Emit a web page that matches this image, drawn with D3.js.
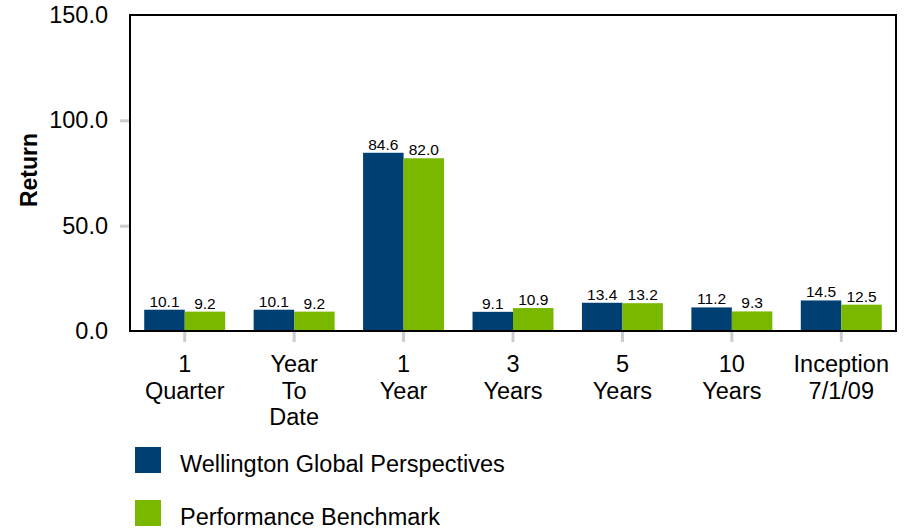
<!DOCTYPE html>
<html>
<head>
<meta charset="utf-8">
<script src="https://cdn.jsdelivr.net/npm/d3@7/dist/d3.min.js"></script>
<style>
  body { margin: 0; background: #fff; }
  text { font-family: "Liberation Sans", Arial, sans-serif; }
</style>
</head>
<body>
<div id="chart"></div>
<script>
var categories = [['1', 'Quarter'], ['Year', 'To', 'Date'], ['1', 'Year'], ['3', 'Years'], ['5', 'Years'], ['10', 'Years'], ['Inception', '7/1/09']];
var fundValues = [10.1, 10.1, 84.6, 9.1, 13.4, 11.2, 14.5];
var benchValues = [9.2, 9.2, 82.0, 10.9, 13.2, 9.3, 12.5];
var seriesNames = ['Wellington Global Perspectives', 'Performance Benchmark'];
var yTicks = [0, 50, 100, 150];

var chartWidth = 909, chartHeight = 532;
var plotLeft = 130, plotRight = 896, plotTop = 15, plotBottom = 331;
var colors = ['#003f72', '#7ab800'];
var labelSize = 23.5;

var svg = d3.select('#chart').append('svg')
    .attr('width', chartWidth)
    .attr('height', chartHeight);

var keys = categories.map(function(c) { return c.join(' '); });

var x = d3.scaleBand()
    .domain(keys)
    .range([plotLeft, plotRight])
    .paddingInner(0.26)
    .paddingOuter(0.13);

var xSub = d3.scaleBand()
    .domain([0, 1])
    .range([0, x.bandwidth()]);

var y = d3.scaleLinear()
    .domain([0, 150])
    .range([plotBottom, plotTop]);

// y ticks (gray stubs outside the frame)
var yAxis = svg.append('g')
    .attr('transform', 'translate(' + plotLeft + ',0)')
    .call(d3.axisLeft(y).tickValues(yTicks).tickSize(10).tickPadding(12).tickFormat(d3.format('.1f')));
yAxis.select('.domain').remove();
yAxis.selectAll('line').attr('stroke', '#c8cdd2').attr('stroke-width', 3);
yAxis.selectAll('text').attr('font-size', labelSize).attr('fill', '#000')
    .attr('font-family', '"Liberation Sans", Arial, sans-serif');
yAxis.selectAll('.tick').filter(function(d) { return d === 150 || d === 0; }).select('line').remove();

// x ticks
var xAxis = svg.append('g')
    .attr('transform', 'translate(0,' + plotBottom + ')')
    .call(d3.axisBottom(x).tickSize(11).tickFormat(''));
xAxis.select('.domain').remove();
xAxis.selectAll('line').attr('stroke', '#c8cdd2').attr('stroke-width', 3);

// category labels, multi-line
categories.forEach(function(c, i) {
    var cx = x(keys[i]) + x.bandwidth() / 2;
    var t = svg.append('text')
        .attr('x', cx)
        .attr('y', plotBottom + 41)
        .attr('text-anchor', 'middle')
        .attr('font-size', labelSize)
        .attr('fill', '#000');
    c.forEach(function(line, j) {
        t.append('tspan')
            .attr('x', cx)
            .attr('dy', j === 0 ? 0 : 26.5)
            .text(line);
    });
});

// bars
var data = keys.map(function(k, i) { return { key: k, values: [fundValues[i], benchValues[i]] }; });

var groups = svg.selectAll('.grp')
    .data(data)
    .enter()
    .append('g')
    .attr('class', 'grp')
    .attr('transform', function(d) { return 'translate(' + x(d.key) + ',0)'; });

groups.selectAll('rect')
    .data(function(d) { return d.values; })
    .enter()
    .append('rect')
    .attr('x', function(d, i) { return xSub(i); })
    .attr('y', function(d) { return y(d); })
    .attr('width', xSub.bandwidth())
    .attr('height', function(d) { return y(0) - y(d); })
    .attr('fill', function(d, i) { return colors[i]; });

groups.selectAll('.val')
    .data(function(d) { return d.values; })
    .enter()
    .append('text')
    .attr('class', 'val')
    .attr('x', function(d, i) { return xSub(i) + xSub.bandwidth() / 2; })
    .attr('y', function(d) { return y(d) - 3; })
    .attr('text-anchor', 'middle')
    .attr('font-size', 15.5)
    .attr('fill', '#000')
    .text(function(d) { return d.toFixed(1); });

// frame
svg.append('rect')
    .attr('x', plotLeft)
    .attr('y', plotTop)
    .attr('width', plotRight - plotLeft)
    .attr('height', plotBottom - plotTop)
    .attr('fill', 'none')
    .attr('stroke', '#000')
    .attr('stroke-width', 2);

// y title
svg.append('text')
    .attr('transform', 'translate(37,170) rotate(-90)')
    .attr('text-anchor', 'middle')
    .attr('font-size', 23)
    .attr('font-weight', 'bold')
    .attr('fill', '#000')
    .text('Return');

// legend
var legend = svg.selectAll('.legend')
    .data(seriesNames)
    .enter()
    .append('g')
    .attr('class', 'legend')
    .attr('transform', function(d, i) { return 'translate(135,' + (447 + i * 53) + ')'; });

legend.append('rect')
    .attr('width', 26)
    .attr('height', 26)
    .attr('fill', function(d, i) { return colors[i]; });

legend.append('text')
    .attr('x', 45)
    .attr('y', 25)
    .attr('font-size', labelSize)
    .attr('fill', '#000')
    .text(function(d) { return d; });
</script>
</body>
</html>
